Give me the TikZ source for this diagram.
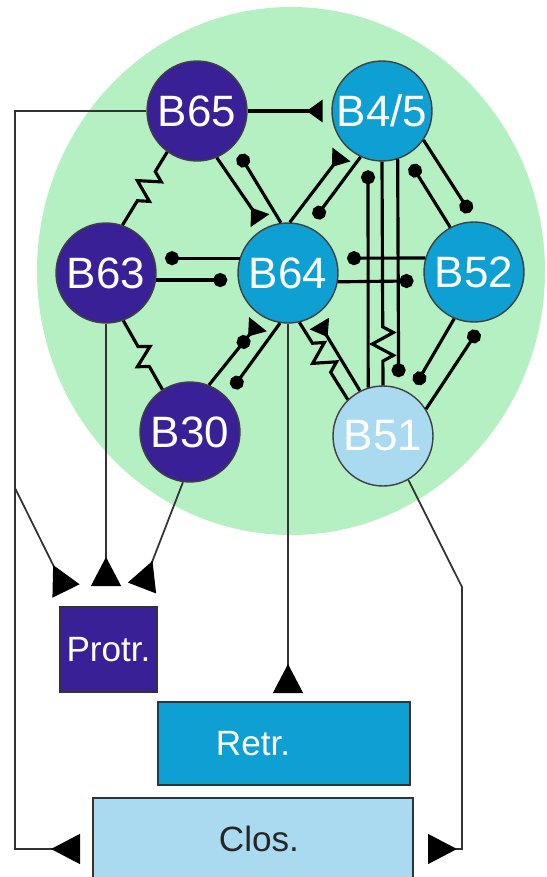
\documentclass[tikz,border=0pt]{standalone}
\usepackage{fontspec}
\setmainfont{Liberation Sans}
\usetikzlibrary{arrows.meta, decorations.pathmorphing, positioning}

\definecolor{cellpurple}{RGB}{58,32,150}
\definecolor{cellblue}{RGB}{14,160,210}
\definecolor{cellpale}{RGB}{170,218,240}
\definecolor{netgreen}{RGB}{181,240,195}

\begin{document}
\begin{tikzpicture}[x=0.02cm, y=-0.02cm,
    every node/.style={inner sep=0pt}]

    \tikzstyle{cell}=[circle, draw=black!75, line width=0.8pt, minimum size=2cm, text=white, font=\fontsize{25}{25}\selectfont]
    \tikzstyle{box}=[rectangle, draw=black!80, line width=0.9pt, font=\fontsize{20}{20}\selectfont]
    \tikzstyle{syn}=[line width=1.8pt]
    \tikzstyle{dotend}=[syn, -{Circle[length=8pt]}, shorten >=6pt]
    \tikzstyle{triend}=[syn, -{Triangle[reversed, length=9pt, width=12.5pt]}, shorten >=5pt]
    \tikzstyle{elec}=[syn, decorate, decoration={zigzag, segment length=13pt, amplitude=6pt, pre length=#1, post length=12pt}]
    \tikzstyle{wire}=[line width=1pt, draw=black!80, -{Triangle[reversed, length=16.5pt, width=17pt, color=black]}]

    \useasboundingbox (0,0) rectangle (547,877);
    \fill[netgreen] (291,271) ellipse [x radius=254, y radius=264];

    % cells
    \node[cell, fill=cellpurple] (B65) at (197,111) {B65};
    \node[cell, fill=cellblue] (B45) at (382,111) {B4/5};
    \node[cell, fill=cellpurple] (B63) at (106,273) {B63};
    \node[cell, fill=cellblue] (B64) at (288,273) {B64};
    \node[cell, fill=cellblue] (B52) at (474,272) {B52};
    \node[cell, fill=cellpurple] (B30) at (190,432) {B30};
    \node[cell, fill=cellpale] (B51) at (383,436) {B51};

    % motor outputs
    \node[box, fill=cellpurple, text=white, minimum width=1.94cm, minimum height=1.7cm] (Protr) at (108.5,649.5) {Protr.};
    \node[box, fill=cellblue, text=white, minimum width=5.04cm, minimum height=1.66cm] (Retr) at (284,743.5) {Retr.\kern1.24cm};
    \node[box, fill=cellpale, text=black!85, minimum width=6.4cm, minimum height=1.64cm] (Clos) at (253,839) {\kern0.24cm Clos.};

    % synapses
    \draw[triend] (B65.east) -- (B45.west);
    \draw[triend] (B65.-67) -- (B64.117);
    \draw[dotend] (B64.98) -- (B65.-43);
    \draw[triend] (B64.88) -- (B45.-134);
    \draw[dotend] (B45.-115) -- (B64.66);
    \draw[dotend] (B45.-35) -- (B52.88);
    \draw[dotend] (B52.118) -- (B45.-62);
    \draw[dotend] (B63.-8) -- (B64.-172);
    \draw[dotend] (B64.163) -- (B63.17);
    \draw[dotend] (B52.164) -- (B64.17);
    \draw[dotend] (B64.-10) -- (B52.-170);
    \draw[syn, -{Circle[length=8pt] Triangle[reversed, length=9pt, width=12.5pt]}, shorten >=5pt] (B30.68) -- (B64.-119);
    \draw[dotend] (B64.-99) -- (B30.44);
    \draw[triend] (B51.117) -- (B64.-58);
    \draw[dotend] (B51.107) -- (B45.-106);
    \draw[dotend] (B45.-72) -- (B51.72);
    \draw[dotend] (B52.-113) -- (B51.57);
    \draw[dotend] (B51.32) -- (B52.-79);

    % electrical junctions
    \draw[elec=13pt] (B65.-126) -- (B63.71);
    \draw[elec=17pt] (B63.-70) -- (B30.123);
    \draw[elec=14pt] (B64.-77) -- (B51.134);
    \draw[elec=94pt] (B45.south) -- (B51.north);

    % output wires
    \coordinate (bend) at (15,488);
    \coordinate (closL) at (80,849);
    \coordinate (closR) at (428,849);
    \coordinate (knee) at (462,587);
    \draw[wire] (B65.west) -| (bend) |- (closL);
    \draw[wire] (bend) -- (66,591);
    \draw[wire] (B63.south) -- (106,586);
    \draw[wire] (B30.-98) -- (142,588);
    \draw[wire] (B64.south) -- (288,693);
    \draw[wire] (B51.-60) -- (knee) |- (closR);

\end{tikzpicture}
\end{document}
